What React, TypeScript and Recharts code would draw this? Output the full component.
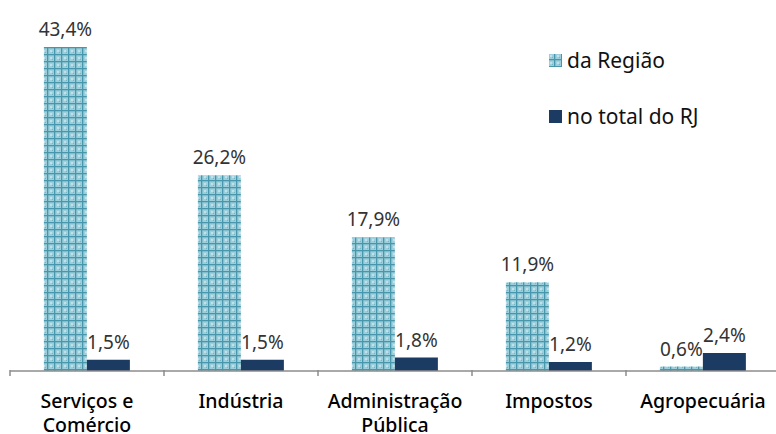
import { BarChart, Bar, XAxis, YAxis, LabelList } from 'recharts'

// Composição do PIB – participação por setor
const categories = ['Serviços e\nComércio', 'Indústria', 'Administração\nPública', 'Impostos', 'Agropecuária']
const daRegiao = [43.4, 26.2, 17.9, 11.9, 0.6]
const noTotalRJ = [1.5, 1.5, 1.8, 1.2, 2.4]
const seriesNames = ['da Região', 'no total do RJ']

const data = categories.map((name, i) => ({ name, regiao: daRegiao[i], rj: noTotalRJ[i] }))

const FONT = '"Noto Sans", sans-serif'
const DARK = '#1c3b63'

const pct = (v: unknown) => `${Number(v).toFixed(1).replace('.', ',')}%`

function CategoryTick(props: any) {
  const { x, y, payload } = props
  const lines = String(payload.value).split('\n')
  const half = 77
  return (
    <g>
      <line x1={x - half} y1={y - 9} x2={x - half} y2={y - 3} stroke="#8c8c8c" strokeWidth={1.5} />
      {lines.map((l, i) => (
        <text key={i} x={x} y={y + 29 + i * 24} textAnchor="middle" fontFamily={FONT} fontSize={19.5} fill="#000" fontWeight={500}>
          {l}
        </text>
      ))}
    </g>
  )
}

export default function App() {
  return (
    <div style={{ position: 'absolute', left: 0, top: 0, width: 776, height: 434, overflow: 'hidden', background: '#fff' }}>
      <BarChart
        width={780}
        height={434}
        data={data}
        margin={{ top: 35, right: 0, left: 10, bottom: 33 }}
        barCategoryGap="22%"
        barGap={0}
      >
        <defs>
          <pattern id="grade" width={7} height={7} patternUnits="userSpaceOnUse">
            <rect width={7} height={7} fill="#9ccfdb" />
            <rect x={1} y={1} width={2} height={2} fill="#c0e1e9" />
            <rect x={3} y={3} width={1} height={1} fill="#74b6c6" />
            <rect x={5} y={0} width={1.3} height={7} fill="#4896ac" />
            <rect x={0} y={5} width={7} height={1.3} fill="#4896ac" />
          </pattern>
        </defs>
        <XAxis
          dataKey="name"
          interval={0}
          axisLine={{ stroke: '#8c8c8c', strokeWidth: 1.5 }}
          tickLine={false}
          tick={<CategoryTick />}
        />
        <YAxis hide domain={[0, 45]} />
        <Bar dataKey="regiao" name={seriesNames[0]} fill="url(#grade)" isAnimationActive={false}>
          <LabelList dataKey="regiao" position="top" offset={11} formatter={pct} fontFamily={FONT} fontSize={19} fill="#333" />
        </Bar>
        <Bar dataKey="rj" name={seriesNames[1]} fill={DARK} isAnimationActive={false}>
          <LabelList dataKey="rj" position="top" offset={11} formatter={pct} fontFamily={FONT} fontSize={19} fill="#333" />
        </Bar>
      </BarChart>
      <div style={{ position: 'absolute', left: 549, top: 45, fontFamily: FONT, fontSize: 21, color: '#111' }}>
        {seriesNames.map((n, i) => (
          <div key={n} style={{ display: 'flex', alignItems: 'center', height: 30, marginBottom: i === 0 ? 26 : 0 }}>
            <svg width={13} height={13} style={{ marginRight: 5 }}>
              <rect width={13} height={13} fill={i === 0 ? 'url(#grade)' : DARK} />
            </svg>
            <span>{n}</span>
          </div>
        ))}
      </div>
    </div>
  )
}
